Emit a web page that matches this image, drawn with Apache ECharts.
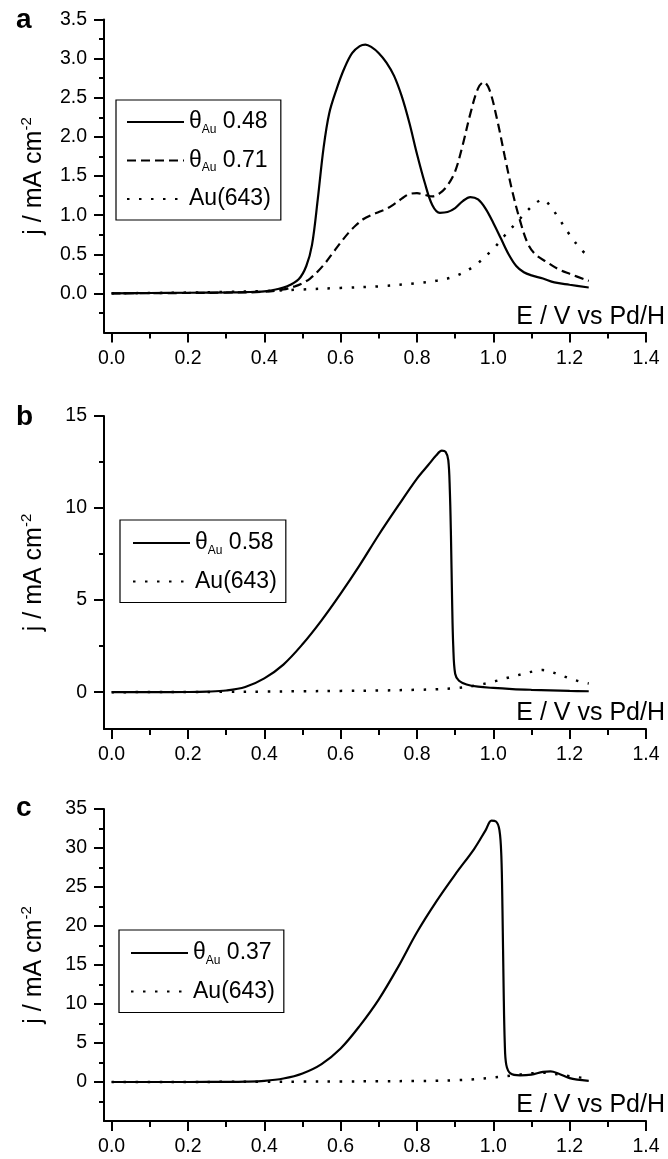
<!DOCTYPE html>
<html>
<head>
<meta charset="utf-8">
<script src="https://cdn.jsdelivr.net/npm/echarts@6/dist/echarts.min.js"></script>
<style>
html,body{margin:0;padding:0;background:#fff;}
#chart{width:668px;height:1159px;}
</style>
</head>
<body>
<div id="chart"></div>
<script>
// ---------- data ----------
// Au(643) reference curve (shared by all panels)
const E_AU = [0, 0.1, 0.2, 0.3, 0.4, 0.5, 0.6, 0.7, 0.8, 0.85, 0.9, 0.95, 1.0, 1.03, 1.06, 1.09, 1.11, 1.13, 1.15, 1.17, 1.2, 1.23, 1.25];
const J_AU = [0, 0.005, 0.01, 0.02, 0.03, 0.05, 0.07, 0.09, 0.13, 0.16, 0.22, 0.35, 0.57, 0.74, 0.9, 1.06, 1.15, 1.2, 1.11, 0.97, 0.75, 0.56, 0.47];

// panel a : theta_Au 0.48 (solid)
const E_A48 = [0, 0.1, 0.2, 0.3, 0.35, 0.4, 0.43, 0.46, 0.49, 0.51, 0.525, 0.54, 0.555, 0.57, 0.59, 0.61, 0.63, 0.65, 0.665, 0.68, 0.70, 0.72, 0.74, 0.76, 0.78, 0.80, 0.82, 0.84, 0.86, 0.88, 0.90, 0.92, 0.94, 0.96, 0.98, 1.0, 1.02, 1.04, 1.06, 1.08, 1.1, 1.13, 1.16, 1.2, 1.25];
const J_A48 = [0, 0.005, 0.008, 0.012, 0.016, 0.025, 0.05, 0.09, 0.18, 0.35, 0.62, 1.2, 1.85, 2.3, 2.62, 2.88, 3.07, 3.16, 3.18, 3.15, 3.07, 2.95, 2.78, 2.52, 2.18, 1.78, 1.42, 1.13, 1.03, 1.04, 1.09, 1.18, 1.23, 1.2, 1.08, 0.9, 0.7, 0.5, 0.35, 0.27, 0.23, 0.19, 0.14, 0.11, 0.075];

// panel a : theta_Au 0.71 (dashed)
const E_A71 = [0, 0.2, 0.3, 0.4, 0.45, 0.48, 0.5, 0.52, 0.54, 0.56, 0.58, 0.6, 0.62, 0.64, 0.66, 0.68, 0.70, 0.72, 0.74, 0.76, 0.78, 0.80, 0.82, 0.84, 0.86, 0.88, 0.90, 0.92, 0.94, 0.96, 0.975, 0.99, 1.01, 1.03, 1.05, 1.07, 1.09, 1.11, 1.14, 1.17, 1.2, 1.25];
const J_A71 = [0, 0.005, 0.01, 0.02, 0.05, 0.09, 0.13, 0.19, 0.28, 0.39, 0.52, 0.65, 0.77, 0.87, 0.95, 1.0, 1.04, 1.08, 1.14, 1.21, 1.27, 1.28, 1.26, 1.24, 1.28, 1.38, 1.56, 1.9, 2.3, 2.62, 2.7, 2.6, 2.22, 1.75, 1.3, 0.93, 0.64, 0.5, 0.4, 0.31, 0.25, 0.16];

// panel b : theta_Au 0.58 (solid)
const E_B58 = [0, 0.1, 0.2, 0.25, 0.3, 0.35, 0.4, 0.45, 0.5, 0.55, 0.6, 0.65, 0.7, 0.75, 0.8, 0.83, 0.85, 0.865, 0.875, 0.882, 0.886, 0.889, 0.892, 0.895, 0.9, 0.91, 0.93, 0.96, 1.0, 1.05, 1.1, 1.15, 1.2, 1.25];
const J_B58 = [0, 0, 0.01, 0.03, 0.09, 0.28, 0.75, 1.5, 2.6, 3.9, 5.35, 6.9, 8.55, 10.1, 11.6, 12.35, 12.85, 13.12, 13.05, 12.6, 11.0, 8.5, 5.0, 2.5, 1.0, 0.62, 0.42, 0.3, 0.23, 0.17, 0.13, 0.1, 0.07, 0.05];

// panel c : theta_Au 0.37 (solid)
const E_C37 = [0, 0.2, 0.3, 0.35, 0.4, 0.45, 0.5, 0.55, 0.6, 0.65, 0.7, 0.75, 0.8, 0.85, 0.9, 0.95, 0.98, 0.995, 1.007, 1.016, 1.021, 1.024, 1.027, 1.03, 1.034, 1.045, 1.07, 1.1, 1.13, 1.15, 1.17, 1.2, 1.22, 1.25];
const J_C37 = [0, 0, 0.02, 0.05, 0.15, 0.45, 1.1, 2.3, 4.3, 7.2, 10.6, 14.7, 19.2, 23.1, 26.6, 29.9, 32.3, 33.5, 33.4, 32.3, 29.0, 22.0, 12.0, 5.0, 2.2, 1.1, 0.85, 0.95, 1.3, 1.35, 1.1, 0.5, 0.3, 0.15];

// tick labels
const X_MAJOR = [0, 0.2, 0.4, 0.6, 0.8, 1.0, 1.2, 1.4];
const X_MINOR = [0.1, 0.3, 0.5, 0.7, 0.9, 1.1, 1.3];
const YA_MAJOR = [0, 0.5, 1.0, 1.5, 2.0, 2.5, 3.0, 3.5];
const YA_MINOR = [-0.25, 0.25, 0.75, 1.25, 1.75, 2.25, 2.75, 3.25];
const YB_MAJOR = [0, 5, 10, 15];
const YB_MINOR = [2.5, 7.5, 12.5];
const YC_MAJOR = [0, 5, 10, 15, 20, 25, 30, 35];
const YC_MINOR = [-2.5, 2.5, 7.5, 12.5, 17.5, 22.5, 27.5, 32.5];

const NAME_048 = 'θAu 0.48';
const NAME_071 = 'θAu 0.71';
const NAME_058 = 'θAu 0.58';
const NAME_037 = 'θAu 0.37';
const NAME_AU = 'Au(643)';

// ---------- helpers ----------
const FONT = '"Liberation Sans", Arial, sans-serif';
const pairs = (e, j) => e.map((x, i) => [x, j[i]]);

const grids = [
  {left: 104, width: 542, top: 19.5, height: 313},
  {left: 104, width: 542, top: 416, height: 313},
  {left: 104, width: 542, top: 809, height: 312}
];
const yRanges = [
  {min: -0.5, max: 3.5, major: YA_MAJOR, minor: YA_MINOR, fmt: v => v.toFixed(1)},
  {min: -2, max: 15, major: YB_MAJOR, minor: YB_MINOR, fmt: v => String(v)},
  {min: -5, max: 35, major: YC_MAJOR, minor: YC_MINOR, fmt: v => String(v)}
];

const xAxis = [], yAxis = [];
grids.forEach((g, i) => {
  xAxis.push({
    type: 'value', gridIndex: i, position: 'bottom', min: -0.02, max: 1.4,
    axisLine: {show: true, onZero: false, lineStyle: {color: '#000', width: 2}},
    axisTick: {show: true, customValues: X_MAJOR, length: 10, lineStyle: {color: '#000', width: 2}},
    axisLabel: {show: true, customValues: X_MAJOR, formatter: v => v.toFixed(1), fontSize: 19.5, color: '#000', fontFamily: FONT, margin: 16},
    splitLine: {show: false},
    name: 'E / V vs Pd/H', nameLocation: 'end', nameGap: 19,
    nameTextStyle: {fontSize: 25, color: '#000', fontFamily: FONT, align: 'right', verticalAlign: 'bottom', padding: [0, 0, 3, 0]}
  });
  xAxis.push({
    type: 'value', gridIndex: i, position: 'bottom', min: -0.02, max: 1.4,
    axisLine: {show: false, onZero: false},
    axisTick: {show: true, customValues: X_MINOR, length: 6, lineStyle: {color: '#000', width: 2}},
    axisLabel: {show: false}, splitLine: {show: false}
  });
  const r = yRanges[i];
  yAxis.push({
    type: 'value', gridIndex: i, position: 'left', min: r.min, max: r.max,
    axisLine: {show: true, onZero: false, lineStyle: {color: '#000', width: 2}},
    axisTick: {show: true, customValues: r.major, length: 10, lineStyle: {color: '#000', width: 2}},
    axisLabel: {show: true, customValues: r.major, formatter: r.fmt, fontSize: 19.5, color: '#000', fontFamily: FONT, margin: 17},
    splitLine: {show: false},
    name: 'j / mA cm{sup|-2}', nameLocation: 'middle', nameGap: 55,
    nameTextStyle: {fontSize: 25, color: '#000', fontFamily: FONT, lineHeight: 30,
      rich: {sup: {fontSize: 15, fontFamily: FONT, color: '#000', padding: [0, 0, 15, 0]}}}
  });
  yAxis.push({
    type: 'value', gridIndex: i, position: 'left', min: r.min, max: r.max,
    axisLine: {show: false, onZero: false},
    axisTick: {show: true, customValues: r.minor, length: 5, lineStyle: {color: '#000', width: 2}},
    axisLabel: {show: false}, splitLine: {show: false}
  });
});

const SOLID = {color: '#000', width: 2.2, type: 'solid'};
const DASHED = {color: '#000', width: 2.2, type: [9, 5]};
const DOTTED = {color: '#000', width: 2.5, type: [2.5, 9.5]};

function line(name, e, j, gi, style) {
  return {
    type: 'line', name: name, xAxisIndex: gi * 2, yAxisIndex: gi * 2,
    data: pairs(e, j), symbol: 'none', smooth: 0.35,
    lineStyle: style, itemStyle: {color: '#000'}, z: 3, silent: true, animation: false
  };
}

const series = [
  line(NAME_AU, E_AU, J_AU, 0, DOTTED),
  line(NAME_071, E_A71, J_A71, 0, DASHED),
  line(NAME_048, E_A48, J_A48, 0, SOLID),
  line(NAME_AU, E_AU, J_AU, 1, DOTTED),
  line(NAME_058, E_B58, J_B58, 1, SOLID),
  line(NAME_AU, E_AU, J_AU, 2, DOTTED),
  line(NAME_037, E_C37, J_C37, 2, SOLID)
];

function legend(names, left, top, pad) {
  return {
    data: names, orient: 'vertical', left: left, top: top, padding: pad,
    itemWidth: 57, itemHeight: 14, itemGap: 12,
    borderColor: '#000', borderWidth: 1.2, selectedMode: false,
    itemStyle: {opacity: 0, borderWidth: 0},
    formatter: n => n.replace('θAu', 'θ{sub|Au}'),
    textStyle: {fontSize: 23, color: '#000', fontFamily: FONT, lineHeight: 26,
      rich: {sub: {fontSize: 12, color: '#000', fontFamily: FONT, padding: [15, 0, 0, 0]}}}
  };
}

const option = {
  backgroundColor: '#fff',
  animation: false,
  grid: grids,
  xAxis: xAxis,
  yAxis: yAxis,
  legend: [
    legend([NAME_048, NAME_071, NAME_AU], 116, 100, [9, 10, 8, 10]),
    legend([NAME_058, NAME_AU], 120, 520, [10, 9, 8, 12]),
    legend([NAME_037, NAME_AU], 119, 930, [10, 9, 8, 11])
  ],
  graphic: [
    {type: 'text', left: 16, top: 6, style: {text: 'a', fontSize: 28, fontWeight: 'bold', fill: '#000', fontFamily: FONT}},
    {type: 'text', left: 16, top: 403, style: {text: 'b', fontSize: 28, fontWeight: 'bold', fill: '#000', fontFamily: FONT}},
    {type: 'text', left: 16, top: 794, style: {text: 'c', fontSize: 28, fontWeight: 'bold', fill: '#000', fontFamily: FONT}}
  ],
  series: series
};

const chart = echarts.init(document.getElementById('chart'), null, {renderer: 'canvas'});
chart.setOption(option);
</script>
</body>
</html>
